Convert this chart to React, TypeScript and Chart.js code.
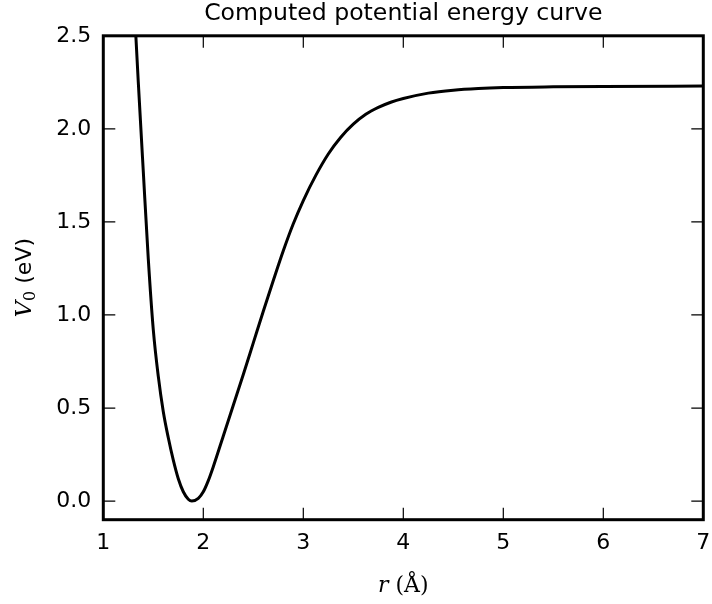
import React, { useEffect, useRef } from "react";
import { Chart, registerables } from "chart.js";

Chart.register(...registerables);

const TITLE = "Computed potential energy curve";
const R_ANGSTROM = [
  1.3, 1.35, 1.4, 1.45, 1.5, 1.55, 1.6, 1.65, 1.7, 1.75, 1.8, 1.85, 1.885,
  1.95, 2.0, 2.05, 2.1, 2.2, 2.3, 2.4, 2.5, 2.6, 2.7, 2.8, 2.9, 3.0, 3.125,
  3.25, 3.375, 3.5, 3.625, 3.75, 3.875, 4.0, 4.25, 4.5, 4.75, 5.0, 5.5, 6.0,
  7.0,
];
const V0_EV = [
  2.76, 2.25, 1.77, 1.3, 0.92, 0.67, 0.48, 0.34, 0.22, 0.12, 0.05, 0.01, 0.0,
  0.015, 0.05, 0.11, 0.185, 0.35, 0.515, 0.68, 0.85, 1.02, 1.185, 1.345, 1.49,
  1.615, 1.75, 1.865, 1.955, 2.025, 2.078, 2.115, 2.143, 2.163, 2.192, 2.208,
  2.217, 2.222, 2.226, 2.228, 2.23,
];
const X_TICKS = [1, 2, 3, 4, 5, 6, 7];
const Y_TICKS = [0.0, 0.5, 1.0, 1.5, 2.0, 2.5];
const X_LABEL_VAR = "r";
const X_LABEL_UNIT = " (Å)";
const Y_LABEL_VAR = "V";
const Y_LABEL_SUB = "0";
const Y_LABEL_UNIT = " (eV)";

export default function App() {
  const ref = useRef<HTMLCanvasElement>(null);

  useEffect(() => {
    if (!ref.current) return;

    const decor = {
      id: "decor",
      afterDatasetsDraw(chart: any) {
        const { ctx, chartArea: a, scales } = chart;
        const xs = scales.x;
        const ys = scales.y;
        ctx.save();
        ctx.strokeStyle = "#000";
        ctx.lineWidth = 1.2;
        const L = 12;
        ctx.beginPath();
        xs.ticks.forEach((t: any) => {
          const px = xs.getPixelForValue(t.value);
          ctx.moveTo(px, a.bottom);
          ctx.lineTo(px, a.bottom - L);
          ctx.moveTo(px, a.top);
          ctx.lineTo(px, a.top + L);
        });
        ys.ticks.forEach((t: any) => {
          const py = ys.getPixelForValue(t.value);
          ctx.moveTo(a.left, py);
          ctx.lineTo(a.left + L, py);
          ctx.moveTo(a.right, py);
          ctx.lineTo(a.right - L, py);
        });
        ctx.stroke();
        ctx.lineWidth = 3;
        ctx.strokeRect(a.left, a.top, a.right - a.left, a.bottom - a.top);

        // title
        ctx.fillStyle = "#000";
        ctx.textAlign = "center";
        ctx.textBaseline = "alphabetic";
        ctx.font = '23.6px "DejaVu Sans"';
        const cx = (a.left + a.right) / 2;
        ctx.fillText(TITLE, cx, 20);

        // x label
        ctx.textAlign = "left";
        const fVar = 'italic 22px "DejaVu Serif"';
        const fUp = '22px "DejaVu Serif"';
        ctx.font = fVar;
        const wr = ctx.measureText(X_LABEL_VAR).width;
        ctx.font = fUp;
        const wu = ctx.measureText(X_LABEL_UNIT).width;
        const x0 = cx - (wr + wu) / 2;
        const by = 592;
        ctx.font = fVar;
        ctx.fillText(X_LABEL_VAR, x0, by);
        ctx.font = fUp;
        ctx.fillText(X_LABEL_UNIT, x0 + wr, by);

        // y label (rotated)
        const cy = (a.top + a.bottom) / 2;
        ctx.translate(0, cy);
        ctx.rotate(-Math.PI / 2);
        const fV = 'italic 23px "DejaVu Serif"';
        const fS = '16px "DejaVu Serif"';
        const fU = '22px "DejaVu Sans"';
        ctx.font = fV;
        const wV = ctx.measureText(Y_LABEL_VAR).width;
        ctx.font = fS;
        const wS = ctx.measureText(Y_LABEL_SUB).width;
        ctx.font = fU;
        const wU = ctx.measureText(Y_LABEL_UNIT).width;
        const total = wV + wS + wU;
        let lx = -total / 2;
        const base = 30.5;
        ctx.font = fV;
        ctx.fillText(Y_LABEL_VAR, lx, base);
        lx += wV;
        ctx.font = fS;
        ctx.fillText(Y_LABEL_SUB, lx, base + 4);
        lx += wS;
        ctx.font = fU;
        ctx.fillText(Y_LABEL_UNIT, lx, base);
        ctx.restore();
      },
    };

    const chart = new Chart(ref.current, {
      type: "line",
      data: {
        datasets: [
          {
            data: R_ANGSTROM.map((r, i) => ({ x: r, y: V0_EV[i] })),
            borderColor: "#000",
            borderWidth: 3,
            pointRadius: 0,
            fill: false,
            cubicInterpolationMode: "monotone",
          },
        ],
      },
      options: {
        animation: false,
        responsive: true,
        maintainAspectRatio: false,
        layout: { padding: { top: 35.8, right: 8.7, left: 0, bottom: 0 } },
        plugins: {
          legend: { display: false },
          title: { display: false },
          tooltip: { enabled: false },
        },
        scales: {
          x: {
            type: "linear",
            min: 1,
            max: 7,
            grid: { display: false, drawTicks: false },
            border: { display: false },
            afterFit: (s: any) => {
              s.height = 604 - 519.7;
              s.paddingLeft = 0;
              s.paddingRight = 0;
            },
            afterBuildTicks: (s: any) => {
              s.ticks = X_TICKS.map((v) => ({ value: v }));
            },
            ticks: {
              padding: 10,
              color: "#000",
              font: { family: "DejaVu Sans", size: 22 },
              maxRotation: 0,
              callback: (v: any) => String(v),
            },
          },
          y: {
            type: "linear",
            min: -0.1,
            max: 2.5,
            grid: { display: false, drawTicks: false },
            border: { display: false },
            afterFit: (s: any) => {
              s.width = 103.3;
              s.paddingTop = 0;
              s.paddingBottom = 0;
            },
            afterBuildTicks: (s: any) => {
              s.ticks = Y_TICKS.map((v) => ({ value: v }));
            },
            ticks: {
              padding: 12,
              color: "#000",
              font: { family: "DejaVu Sans", size: 22 },
              callback: (v: any) => Number(v).toFixed(1),
            },
          },
        },
      },
      plugins: [decor],
    });

    return () => chart.destroy();
  }, []);

  return (
    <div
      style={{
        position: "fixed",
        left: 0,
        top: 0,
        width: 712,
        height: 604,
        background: "#fff",
      }}
    >
      <canvas ref={ref} />
    </div>
  );
}
